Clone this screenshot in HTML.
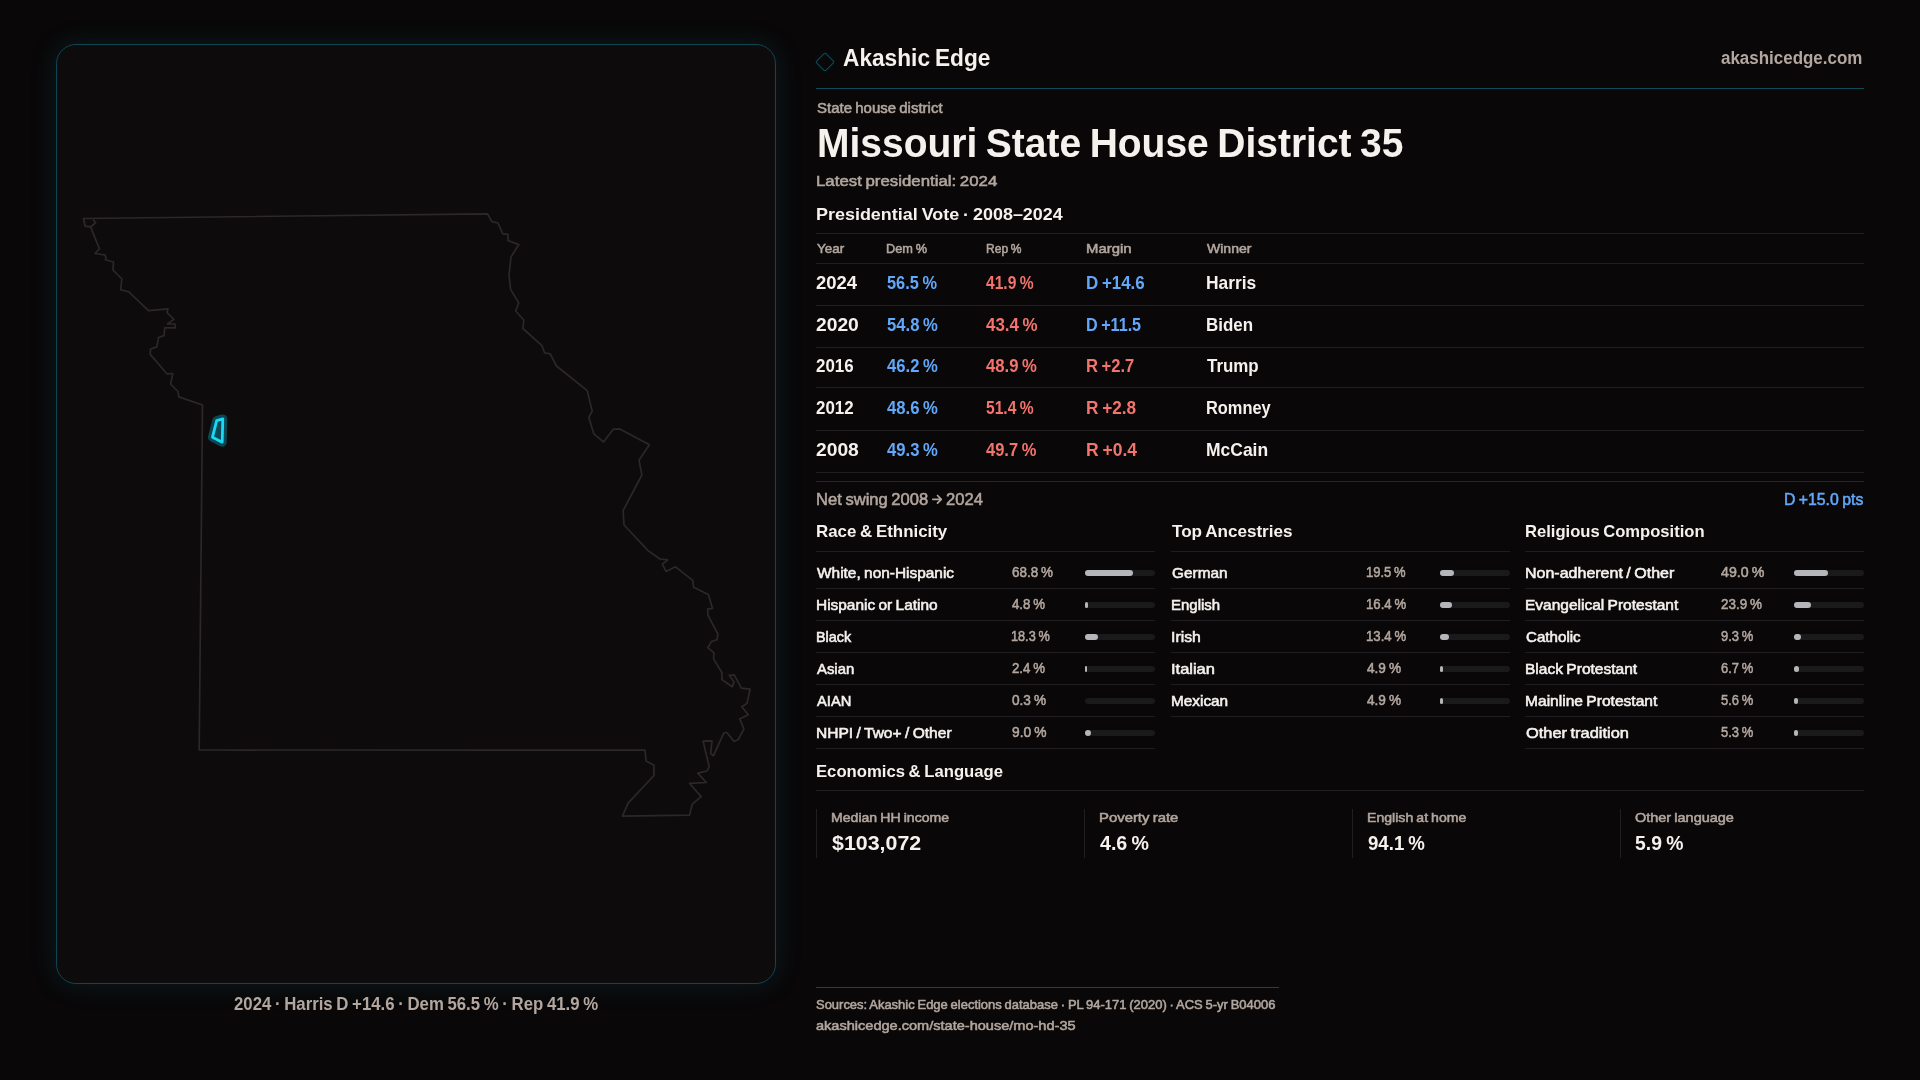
<!DOCTYPE html>
<html><head><meta charset="utf-8"><title>Missouri State House District 35</title>
<style>
html,body{margin:0;padding:0}
body{width:1920px;height:1080px;overflow:hidden;position:relative;background:#090708;font-family:"Liberation Sans",sans-serif;}
.bg{position:absolute;inset:0;background:#090708;}
.panel{position:absolute;left:56px;top:44px;width:718px;height:938px;border:1px solid #0e4653;border-radius:20px;background:#0d0b0c;box-shadow:0 0 24px 3px rgba(24,120,140,0.15);}
.map{position:absolute;left:0;top:0;width:1920px;height:1080px;}
.hl{position:absolute;height:1px;background:#211e1f;}
.tl{position:absolute;height:1px;background:#0f4a57;}
.vl{position:absolute;width:1px;background:#211e1f;}
.trk{position:absolute;height:6px;border-radius:3px;background:#1b1a1b;}
.fil{position:absolute;height:6px;border-radius:3px;background:#b5b6ba;}
.t{position:absolute;white-space:nowrap;line-height:1;transform-origin:0 0;transform:translateZ(0);}
.dia{position:absolute;left:818px;top:55px;width:12px;height:12px;border:1.8px solid #0d4e5b;border-radius:2px;transform:rotate(45deg);box-shadow:0 0 6px rgba(20,140,160,0.12);}
</style></head><body>
<div class="bg"></div>
<div class="panel"></div>
<svg class="map" width="1920" height="1080" viewBox="0 0 1920 1080">
<path d="M83.5 218.5 L487.5 213.8 L491.9 221.6 L498.0 223.0 L502.8 233.8 L508.0 234.4 L508.0 240.6 L518.8 244.6 L511.0 256.9 L509.0 275.0 L510.6 289.4 L518.8 303.0 L515.6 311.0 L523.8 320.0 L522.9 328.5 L541.9 345.6 L544.6 352.9 L550.2 353.8 L556.5 366.0 L587.2 390.6 L592.2 411.2 L588.8 417.5 L593.8 433.8 L603.5 441.9 L613.1 429.4 L619.4 428.8 L649.4 444.8 L639.0 460.2 L641.9 475.0 L623.1 510.6 L624.0 525.0 L648.1 550.6 L660.0 559.0 L667.8 559.8 L662.3 564.2 L666.1 571.4 L675.5 566.8 L692.8 580.4 L693.6 587.2 L708.3 594.5 L712.5 608.3 L707.6 609.2 L708.0 615.3 L717.9 634.0 L717.0 639.7 L711.4 641.6 L707.8 647.7 L713.9 652.8 L713.6 658.9 L721.9 672.5 L721.9 679.5 L732.2 686.8 L734.1 681.9 L729.2 675.3 L734.2 674.8 L741.4 688.2 L750.0 689.2 L747.0 703.4 L741.8 706.7 L748.3 714.7 L739.7 718.9 L743.9 728.8 L738.3 739.5 L734.1 741.4 L726.6 732.3 L723.6 733.3 L713.4 755.8 L710.6 753.4 L712.0 740.8 L703.1 741.2 L709.2 766.6 L707.1 771.0 L697.7 773.1 L706.4 782.5 L689.5 783.4 L701.2 796.6 L692.3 804.1 L689.5 815.1 L622.5 816.1 L628.1 803.1 L653.9 775.5 L653.9 765.2 L646.1 760.9 L645.0 750.2 L199.2 750.0 L202.5 405.0 L178.8 396.9 L178.0 391.5 L170.6 384.0 L172.8 373.5 L166.9 373.8 L150.2 354.4 L150.6 349.0 L156.9 346.9 L158.5 337.5 L164.0 335.6 L164.8 327.8 L175.2 327.8 L175.0 324.0 L167.5 324.0 L173.8 319.4 L167.0 312.5 L168.0 308.8 L148.5 310.6 L128.8 291.9 L120.6 289.8 L121.9 279.0 L113.0 270.0 L113.5 262.0 L105.4 259.8 L106.0 257.5 L105.0 255.0 L95.0 253.5 L99.4 248.8 L90.6 226.9 L85.0 226.2 Z" fill="none" stroke="#2c2828" stroke-width="1.7" stroke-linejoin="round"/>
<path d="M90.6 226.9 L95.6 222.75 L93.1 219.6" fill="none" stroke="#2c2828" stroke-width="1.7" stroke-linejoin="round"/>
<path d="M216.7 420.6 L222.8 418.9 L222.2 442.2 L212.5 437.2 Z" fill="#0c4653" stroke="#0b4653" stroke-width="9" stroke-linejoin="round"/>
<path d="M216.7 420.6 L222.8 418.9 L222.2 442.2 L212.5 437.2 Z" fill="#0c4755" stroke="#1ad9f5" stroke-width="2.8" stroke-linejoin="round"/>
</svg>
<div class="dia"></div>
<svg style="position:absolute;left:0;top:0" width="1920" height="1080"><path d="M932.8 499.3 H941.2 M937.5 495.5 L941.3 499.3 L937.5 503.1" fill="none" stroke="#b2a69e" stroke-width="1.7" stroke-linecap="round" stroke-linejoin="round"/></svg>
<div class="tl" style="left:816px;top:88px;width:1048px"></div>
<div class="hl" style="left:816px;top:233px;width:1048px"></div>
<div class="hl" style="left:816px;top:263px;width:1048px"></div>
<div class="hl" style="left:816px;top:305px;width:1048px"></div>
<div class="hl" style="left:816px;top:347px;width:1048px"></div>
<div class="hl" style="left:816px;top:387px;width:1048px"></div>
<div class="hl" style="left:816px;top:430px;width:1048px"></div>
<div class="hl" style="left:816px;top:472px;width:1048px"></div>
<div class="hl" style="left:816px;top:481px;width:1048px;background:#2b2728"></div>
<div class="hl" style="left:816px;top:551px;width:339px"></div>
<div class="hl" style="left:816px;top:588px;width:339px"></div>
<div class="trk" style="left:1085px;top:570px;width:70px"></div>
<div class="fil" style="left:1085px;top:570px;width:48.2px"></div>
<div class="hl" style="left:816px;top:620px;width:339px"></div>
<div class="trk" style="left:1085px;top:602px;width:70px"></div>
<div class="fil" style="left:1085px;top:602px;width:3.4px"></div>
<div class="hl" style="left:816px;top:652px;width:339px"></div>
<div class="trk" style="left:1085px;top:634px;width:70px"></div>
<div class="fil" style="left:1085px;top:634px;width:12.8px"></div>
<div class="hl" style="left:816px;top:684px;width:339px"></div>
<div class="trk" style="left:1085px;top:666px;width:70px"></div>
<div class="fil" style="left:1085px;top:666px;width:1.7px"></div>
<div class="hl" style="left:816px;top:716px;width:339px"></div>
<div class="trk" style="left:1085px;top:698px;width:70px"></div>
<div class="hl" style="left:816px;top:748px;width:339px"></div>
<div class="trk" style="left:1085px;top:730px;width:70px"></div>
<div class="fil" style="left:1085px;top:730px;width:6.3px"></div>
<div class="hl" style="left:1171px;top:551px;width:339px"></div>
<div class="hl" style="left:1171px;top:588px;width:339px"></div>
<div class="trk" style="left:1440px;top:570px;width:70px"></div>
<div class="fil" style="left:1440px;top:570px;width:13.7px"></div>
<div class="hl" style="left:1171px;top:620px;width:339px"></div>
<div class="trk" style="left:1440px;top:602px;width:70px"></div>
<div class="fil" style="left:1440px;top:602px;width:11.5px"></div>
<div class="hl" style="left:1171px;top:652px;width:339px"></div>
<div class="trk" style="left:1440px;top:634px;width:70px"></div>
<div class="fil" style="left:1440px;top:634px;width:9.4px"></div>
<div class="hl" style="left:1171px;top:684px;width:339px"></div>
<div class="trk" style="left:1440px;top:666px;width:70px"></div>
<div class="fil" style="left:1440px;top:666px;width:3.4px"></div>
<div class="hl" style="left:1171px;top:716px;width:339px"></div>
<div class="trk" style="left:1440px;top:698px;width:70px"></div>
<div class="fil" style="left:1440px;top:698px;width:3.4px"></div>
<div class="hl" style="left:1525px;top:551px;width:339px"></div>
<div class="hl" style="left:1525px;top:588px;width:339px"></div>
<div class="trk" style="left:1794px;top:570px;width:70px"></div>
<div class="fil" style="left:1794px;top:570px;width:34.3px"></div>
<div class="hl" style="left:1525px;top:620px;width:339px"></div>
<div class="trk" style="left:1794px;top:602px;width:70px"></div>
<div class="fil" style="left:1794px;top:602px;width:16.7px"></div>
<div class="hl" style="left:1525px;top:652px;width:339px"></div>
<div class="trk" style="left:1794px;top:634px;width:70px"></div>
<div class="fil" style="left:1794px;top:634px;width:6.5px"></div>
<div class="hl" style="left:1525px;top:684px;width:339px"></div>
<div class="trk" style="left:1794px;top:666px;width:70px"></div>
<div class="fil" style="left:1794px;top:666px;width:4.7px"></div>
<div class="hl" style="left:1525px;top:716px;width:339px"></div>
<div class="trk" style="left:1794px;top:698px;width:70px"></div>
<div class="fil" style="left:1794px;top:698px;width:3.9px"></div>
<div class="hl" style="left:1525px;top:748px;width:339px"></div>
<div class="trk" style="left:1794px;top:730px;width:70px"></div>
<div class="fil" style="left:1794px;top:730px;width:3.7px"></div>
<div class="hl" style="left:816px;top:790px;width:1048px"></div>
<div class="vl" style="left:816px;top:809px;height:49px"></div>
<div class="vl" style="left:1084px;top:809px;height:49px"></div>
<div class="vl" style="left:1352px;top:809px;height:49px"></div>
<div class="vl" style="left:1620px;top:809px;height:49px"></div>
<div class="tl" style="left:816px;top:987px;width:463px"></div>
<div class="t" style="font-size:23.75px;left:842.80px;top:45.90px;letter-spacing:0.000px;color:#f5f2ee;transform:scaleX(0.9551) translateZ(0);word-spacing:-1.43px;font-weight:bold;">Akashic Edge</div>
<div class="t" style="font-size:17.50px;left:1721.40px;top:49.99px;letter-spacing:0.000px;color:#b2a69e;transform:scaleX(0.9687) translateZ(0);font-weight:bold;">akashicedge.com</div>
<div class="t" style="font-size:13.89px;left:816.80px;top:102.24px;letter-spacing:0.000px;color:#b2a69e;transform:scaleX(1.0792) translateZ(0);word-spacing:-0.83px;-webkit-text-stroke:0.55px #b2a69e;">State house district</div>
<div class="t" style="font-size:40.56px;left:816.68px;top:123.47px;letter-spacing:0.000px;color:#f5f2ee;transform:scaleX(0.9615) translateZ(0);word-spacing:-2.43px;font-weight:bold;">Missouri State House District 35</div>
<div class="t" style="font-size:14.79px;left:816.17px;top:174.23px;letter-spacing:0.000px;color:#b2a69e;transform:scaleX(1.1380) translateZ(0);word-spacing:-0.89px;-webkit-text-stroke:0.55px #b2a69e;">Latest presidential: 2024</div>
<div class="t" style="font-size:17.22px;left:815.56px;top:206.02px;letter-spacing:0.000px;color:#f5f2ee;transform:scaleX(1.0430) translateZ(0);word-spacing:-1.03px;font-weight:bold;">Presidential Vote · 2008–2024</div>
<div class="t" style="font-size:13.19px;left:817.08px;top:241.53px;letter-spacing:0.000px;color:#b2a69e;transform:scaleX(1.0179) translateZ(0);-webkit-text-stroke:0.55px #b2a69e;">Year</div>
<div class="t" style="font-size:13.19px;left:886.20px;top:241.53px;letter-spacing:0.000px;color:#b2a69e;transform:scaleX(0.9677) translateZ(0);word-spacing:-0.79px;-webkit-text-stroke:0.55px #b2a69e;">Dem %</div>
<div class="t" style="font-size:13.19px;left:986.09px;top:241.53px;letter-spacing:0.000px;color:#b2a69e;transform:scaleX(0.9129) translateZ(0);word-spacing:-0.79px;-webkit-text-stroke:0.55px #b2a69e;">Rep %</div>
<div class="t" style="font-size:13.19px;left:1085.68px;top:241.53px;letter-spacing:0.000px;color:#b2a69e;transform:scaleX(1.1284) translateZ(0);-webkit-text-stroke:0.55px #b2a69e;">Margin</div>
<div class="t" style="font-size:13.19px;left:1207.09px;top:241.53px;letter-spacing:0.000px;color:#b2a69e;transform:scaleX(1.0645) translateZ(0);-webkit-text-stroke:0.55px #b2a69e;">Winner</div>
<div class="t" style="font-size:18.19px;left:816.40px;top:273.90px;letter-spacing:0.000px;color:#f5f2ee;transform:scaleX(1.0158) translateZ(0);font-weight:bold;">2024</div>
<div class="t" style="font-size:18.19px;left:886.60px;top:273.90px;letter-spacing:0.000px;color:#62a8fa;transform:scaleX(0.8996) translateZ(0);word-spacing:-1.09px;font-weight:bold;">56.5 %</div>
<div class="t" style="font-size:18.19px;left:986.40px;top:273.90px;letter-spacing:0.000px;color:#f3736d;transform:scaleX(0.8580) translateZ(0);word-spacing:-1.09px;font-weight:bold;">41.9 %</div>
<div class="t" style="font-size:18.19px;left:1085.97px;top:273.90px;letter-spacing:0.000px;color:#62a8fa;transform:scaleX(0.9306) translateZ(0);word-spacing:-1.09px;font-weight:bold;">D +14.6</div>
<div class="t" style="font-size:18.19px;left:1205.84px;top:273.90px;letter-spacing:0.000px;color:#f5f2ee;transform:scaleX(0.9561) translateZ(0);font-weight:bold;">Harris</div>
<div class="t" style="font-size:18.19px;left:816.40px;top:315.80px;letter-spacing:0.000px;color:#f5f2ee;transform:scaleX(1.0584) translateZ(0);font-weight:bold;">2020</div>
<div class="t" style="font-size:18.19px;left:886.60px;top:315.80px;letter-spacing:0.000px;color:#62a8fa;transform:scaleX(0.9158) translateZ(0);word-spacing:-1.09px;font-weight:bold;">54.8 %</div>
<div class="t" style="font-size:18.19px;left:986.40px;top:315.80px;letter-spacing:0.000px;color:#f3736d;transform:scaleX(0.9303) translateZ(0);word-spacing:-1.09px;font-weight:bold;">43.4 %</div>
<div class="t" style="font-size:18.19px;left:1086.01px;top:315.80px;letter-spacing:0.000px;color:#62a8fa;transform:scaleX(0.8869) translateZ(0);word-spacing:-1.09px;font-weight:bold;">D +11.5</div>
<div class="t" style="font-size:18.19px;left:1205.87px;top:315.80px;letter-spacing:0.000px;color:#f5f2ee;transform:scaleX(0.9316) translateZ(0);font-weight:bold;">Biden</div>
<div class="t" style="font-size:18.19px;left:816.40px;top:356.80px;letter-spacing:0.000px;color:#f5f2ee;transform:scaleX(0.9295) translateZ(0);font-weight:bold;">2016</div>
<div class="t" style="font-size:18.19px;left:886.60px;top:356.80px;letter-spacing:0.000px;color:#62a8fa;transform:scaleX(0.9158) translateZ(0);word-spacing:-1.09px;font-weight:bold;">46.2 %</div>
<div class="t" style="font-size:18.19px;left:986.40px;top:356.80px;letter-spacing:0.000px;color:#f3736d;transform:scaleX(0.9176) translateZ(0);word-spacing:-1.09px;font-weight:bold;">48.9 %</div>
<div class="t" style="font-size:18.19px;left:1085.99px;top:356.80px;letter-spacing:0.000px;color:#f3736d;transform:scaleX(0.9116) translateZ(0);word-spacing:-1.09px;font-weight:bold;">R +2.7</div>
<div class="t" style="font-size:18.19px;left:1206.80px;top:356.80px;letter-spacing:0.000px;color:#f5f2ee;transform:scaleX(0.9303) translateZ(0);font-weight:bold;">Trump</div>
<div class="t" style="font-size:18.19px;left:816.40px;top:399.10px;letter-spacing:0.000px;color:#f5f2ee;transform:scaleX(0.9295) translateZ(0);font-weight:bold;">2012</div>
<div class="t" style="font-size:18.19px;left:886.60px;top:399.10px;letter-spacing:0.000px;color:#62a8fa;transform:scaleX(0.9158) translateZ(0);word-spacing:-1.09px;font-weight:bold;">48.6 %</div>
<div class="t" style="font-size:18.19px;left:986.40px;top:399.10px;letter-spacing:0.000px;color:#f3736d;transform:scaleX(0.8580) translateZ(0);word-spacing:-1.09px;font-weight:bold;">51.4 %</div>
<div class="t" style="font-size:18.19px;left:1085.95px;top:399.10px;letter-spacing:0.000px;color:#f3736d;transform:scaleX(0.9463) translateZ(0);word-spacing:-1.09px;font-weight:bold;">R +2.8</div>
<div class="t" style="font-size:18.19px;left:1205.90px;top:399.10px;letter-spacing:0.000px;color:#f5f2ee;transform:scaleX(0.9017) translateZ(0);font-weight:bold;">Romney</div>
<div class="t" style="font-size:18.19px;left:816.40px;top:440.90px;letter-spacing:0.000px;color:#f5f2ee;transform:scaleX(1.0584) translateZ(0);font-weight:bold;">2008</div>
<div class="t" style="font-size:18.19px;left:886.60px;top:440.90px;letter-spacing:0.000px;color:#62a8fa;transform:scaleX(0.9158) translateZ(0);word-spacing:-1.09px;font-weight:bold;">49.3 %</div>
<div class="t" style="font-size:18.19px;left:986.40px;top:440.90px;letter-spacing:0.000px;color:#f3736d;transform:scaleX(0.9068) translateZ(0);word-spacing:-1.09px;font-weight:bold;">49.7 %</div>
<div class="t" style="font-size:18.19px;left:1085.94px;top:440.90px;letter-spacing:0.000px;color:#f3736d;transform:scaleX(0.9625) translateZ(0);word-spacing:-1.09px;font-weight:bold;">R +0.4</div>
<div class="t" style="font-size:18.19px;left:1205.84px;top:440.90px;letter-spacing:0.000px;color:#f5f2ee;transform:scaleX(0.9606) translateZ(0);font-weight:bold;">McCain</div>
<div class="t" style="font-size:16.11px;left:816.05px;top:491.16px;letter-spacing:0.000px;color:#b2a69e;transform:scaleX(1.0285) translateZ(0);word-spacing:-0.97px;-webkit-text-stroke:0.55px #b2a69e;">Net swing 2008</div>
<div class="t" style="font-size:16.11px;left:946.48px;top:491.16px;letter-spacing:0.000px;color:#b2a69e;transform:scaleX(1.0294) translateZ(0);-webkit-text-stroke:0.55px #b2a69e;">2024</div>
<div class="t" style="font-size:16.11px;left:1783.59px;top:491.26px;letter-spacing:0.000px;color:#62a8fa;transform:scaleX(0.9801) translateZ(0);word-spacing:-0.97px;-webkit-text-stroke:0.55px #62a8fa;">D +15.0 pts</div>
<div class="t" style="font-size:16.81px;left:815.79px;top:524.37px;letter-spacing:0.000px;color:#f5f2ee;transform:scaleX(1.0055) translateZ(0);word-spacing:-1.01px;font-weight:bold;">Race &amp; Ethnicity</div>
<div class="t" style="font-size:14.17px;left:817.10px;top:565.61px;letter-spacing:0.000px;color:#f5f2ee;transform:scaleX(1.0895) translateZ(0);word-spacing:-0.85px;-webkit-text-stroke:0.55px #f5f2ee;">White, non-Hispanic</div>
<div class="t" style="font-size:14.44px;left:1011.56px;top:565.37px;letter-spacing:0.000px;color:#b2a69e;transform:scaleX(0.9287) translateZ(0);word-spacing:-0.87px;-webkit-text-stroke:0.55px #b2a69e;">68.8 %</div>
<div class="t" style="font-size:14.17px;left:816.01px;top:597.61px;letter-spacing:0.000px;color:#f5f2ee;transform:scaleX(1.0900) translateZ(0);word-spacing:-0.85px;-webkit-text-stroke:0.55px #f5f2ee;">Hispanic or Latino</div>
<div class="t" style="font-size:14.44px;left:1011.55px;top:597.37px;letter-spacing:0.000px;color:#b2a69e;transform:scaleX(0.9166) translateZ(0);word-spacing:-0.87px;-webkit-text-stroke:0.55px #b2a69e;">4.8 %</div>
<div class="t" style="font-size:14.17px;left:816.06px;top:629.61px;letter-spacing:0.000px;color:#f5f2ee;transform:scaleX(1.0174) translateZ(0);-webkit-text-stroke:0.55px #f5f2ee;">Black</div>
<div class="t" style="font-size:14.44px;left:1010.66px;top:629.37px;letter-spacing:0.000px;color:#b2a69e;transform:scaleX(0.8791) translateZ(0);word-spacing:-0.87px;-webkit-text-stroke:0.55px #b2a69e;">18.3 %</div>
<div class="t" style="font-size:14.17px;left:817.09px;top:661.61px;letter-spacing:0.000px;color:#f5f2ee;transform:scaleX(1.0516) translateZ(0);-webkit-text-stroke:0.55px #f5f2ee;">Asian</div>
<div class="t" style="font-size:14.44px;left:1011.55px;top:661.37px;letter-spacing:0.000px;color:#b2a69e;transform:scaleX(0.9166) translateZ(0);word-spacing:-0.87px;-webkit-text-stroke:0.55px #b2a69e;">2.4 %</div>
<div class="t" style="font-size:14.17px;left:817.09px;top:693.61px;letter-spacing:0.000px;color:#f5f2ee;transform:scaleX(1.0399) translateZ(0);-webkit-text-stroke:0.55px #f5f2ee;">AIAN</div>
<div class="t" style="font-size:14.44px;left:1011.56px;top:693.37px;letter-spacing:0.000px;color:#b2a69e;transform:scaleX(0.9438) translateZ(0);word-spacing:-0.87px;-webkit-text-stroke:0.55px #b2a69e;">0.3 %</div>
<div class="t" style="font-size:14.17px;left:816.00px;top:725.61px;letter-spacing:0.000px;color:#f5f2ee;transform:scaleX(1.0989) translateZ(0);word-spacing:-0.85px;-webkit-text-stroke:0.55px #f5f2ee;">NHPI / Two+ / Other</div>
<div class="t" style="font-size:14.44px;left:1011.56px;top:725.37px;letter-spacing:0.000px;color:#b2a69e;transform:scaleX(0.9547) translateZ(0);word-spacing:-0.87px;-webkit-text-stroke:0.55px #b2a69e;">9.0 %</div>
<div class="t" style="font-size:16.81px;left:1171.80px;top:524.37px;letter-spacing:0.000px;color:#f5f2ee;transform:scaleX(1.0173) translateZ(0);word-spacing:-1.01px;font-weight:bold;">Top Ancestries</div>
<div class="t" style="font-size:14.17px;left:1172.10px;top:565.61px;letter-spacing:0.000px;color:#f5f2ee;transform:scaleX(1.0863) translateZ(0);-webkit-text-stroke:0.55px #f5f2ee;">German</div>
<div class="t" style="font-size:14.44px;left:1365.65px;top:565.37px;letter-spacing:0.000px;color:#b2a69e;transform:scaleX(0.8997) translateZ(0);word-spacing:-0.87px;-webkit-text-stroke:0.55px #b2a69e;">19.5 %</div>
<div class="t" style="font-size:14.17px;left:1171.03px;top:597.61px;letter-spacing:0.000px;color:#f5f2ee;transform:scaleX(1.0575) translateZ(0);-webkit-text-stroke:0.55px #f5f2ee;">English</div>
<div class="t" style="font-size:14.44px;left:1365.64px;top:597.37px;letter-spacing:0.000px;color:#b2a69e;transform:scaleX(0.9111) translateZ(0);word-spacing:-0.87px;-webkit-text-stroke:0.55px #b2a69e;">16.4 %</div>
<div class="t" style="font-size:14.17px;left:1170.99px;top:629.61px;letter-spacing:0.000px;color:#f5f2ee;transform:scaleX(1.1133) translateZ(0);-webkit-text-stroke:0.55px #f5f2ee;">Irish</div>
<div class="t" style="font-size:14.44px;left:1365.64px;top:629.37px;letter-spacing:0.000px;color:#b2a69e;transform:scaleX(0.9111) translateZ(0);word-spacing:-0.87px;-webkit-text-stroke:0.55px #b2a69e;">13.4 %</div>
<div class="t" style="font-size:14.17px;left:1170.96px;top:661.61px;letter-spacing:0.000px;color:#f5f2ee;transform:scaleX(1.1632) translateZ(0);-webkit-text-stroke:0.55px #f5f2ee;">Italian</div>
<div class="t" style="font-size:14.44px;left:1366.56px;top:661.37px;letter-spacing:0.000px;color:#b2a69e;transform:scaleX(0.9438) translateZ(0);word-spacing:-0.87px;-webkit-text-stroke:0.55px #b2a69e;">4.9 %</div>
<div class="t" style="font-size:14.17px;left:1171.01px;top:693.61px;letter-spacing:0.000px;color:#f5f2ee;transform:scaleX(1.0839) translateZ(0);-webkit-text-stroke:0.55px #f5f2ee;">Mexican</div>
<div class="t" style="font-size:14.44px;left:1366.56px;top:693.37px;letter-spacing:0.000px;color:#b2a69e;transform:scaleX(0.9438) translateZ(0);word-spacing:-0.87px;-webkit-text-stroke:0.55px #b2a69e;">4.9 %</div>
<div class="t" style="font-size:16.81px;left:1524.81px;top:524.37px;letter-spacing:0.000px;color:#f5f2ee;transform:scaleX(0.9871) translateZ(0);word-spacing:-1.01px;font-weight:bold;">Religious Composition</div>
<div class="t" style="font-size:14.17px;left:1524.98px;top:565.61px;letter-spacing:0.000px;color:#f5f2ee;transform:scaleX(1.1303) translateZ(0);word-spacing:-0.85px;-webkit-text-stroke:0.55px #f5f2ee;">Non-adherent / Other</div>
<div class="t" style="font-size:14.44px;left:1720.57px;top:565.37px;letter-spacing:0.000px;color:#b2a69e;transform:scaleX(0.9823) translateZ(0);word-spacing:-0.87px;-webkit-text-stroke:0.55px #b2a69e;">49.0 %</div>
<div class="t" style="font-size:14.17px;left:1525.01px;top:597.61px;letter-spacing:0.000px;color:#f5f2ee;transform:scaleX(1.0944) translateZ(0);word-spacing:-0.85px;-webkit-text-stroke:0.55px #f5f2ee;">Evangelical Protestant</div>
<div class="t" style="font-size:14.44px;left:1720.56px;top:597.37px;letter-spacing:0.000px;color:#b2a69e;transform:scaleX(0.9287) translateZ(0);word-spacing:-0.87px;-webkit-text-stroke:0.55px #b2a69e;">23.9 %</div>
<div class="t" style="font-size:14.17px;left:1526.09px;top:629.61px;letter-spacing:0.000px;color:#f5f2ee;transform:scaleX(1.0694) translateZ(0);-webkit-text-stroke:0.55px #f5f2ee;">Catholic</div>
<div class="t" style="font-size:14.44px;left:1720.55px;top:629.37px;letter-spacing:0.000px;color:#b2a69e;transform:scaleX(0.8976) translateZ(0);word-spacing:-0.87px;-webkit-text-stroke:0.55px #b2a69e;">9.3 %</div>
<div class="t" style="font-size:14.17px;left:1525.00px;top:661.61px;letter-spacing:0.000px;color:#f5f2ee;transform:scaleX(1.0968) translateZ(0);word-spacing:-0.85px;-webkit-text-stroke:0.55px #f5f2ee;">Black Protestant</div>
<div class="t" style="font-size:14.44px;left:1720.55px;top:661.37px;letter-spacing:0.000px;color:#b2a69e;transform:scaleX(0.8976) translateZ(0);word-spacing:-0.87px;-webkit-text-stroke:0.55px #b2a69e;">6.7 %</div>
<div class="t" style="font-size:14.17px;left:1525.00px;top:693.61px;letter-spacing:0.000px;color:#f5f2ee;transform:scaleX(1.0997) translateZ(0);word-spacing:-0.85px;-webkit-text-stroke:0.55px #f5f2ee;">Mainline Protestant</div>
<div class="t" style="font-size:14.44px;left:1720.55px;top:693.37px;letter-spacing:0.000px;color:#b2a69e;transform:scaleX(0.8976) translateZ(0);word-spacing:-0.87px;-webkit-text-stroke:0.55px #b2a69e;">5.6 %</div>
<div class="t" style="font-size:14.17px;left:1526.12px;top:725.61px;letter-spacing:0.000px;color:#f5f2ee;transform:scaleX(1.1578) translateZ(0);word-spacing:-0.85px;-webkit-text-stroke:0.55px #f5f2ee;">Other tradition</div>
<div class="t" style="font-size:14.44px;left:1720.55px;top:725.37px;letter-spacing:0.000px;color:#b2a69e;transform:scaleX(0.8976) translateZ(0);word-spacing:-0.87px;-webkit-text-stroke:0.55px #b2a69e;">5.3 %</div>
<div class="t" style="font-size:17.36px;left:815.84px;top:762.70px;letter-spacing:0.000px;color:#f5f2ee;transform:scaleX(0.9606) translateZ(0);word-spacing:-1.04px;font-weight:bold;">Economics &amp; Language</div>
<div class="t" style="font-size:13.06px;left:830.92px;top:810.65px;letter-spacing:0.000px;color:#b2a69e;transform:scaleX(1.0794) translateZ(0);word-spacing:-0.78px;-webkit-text-stroke:0.55px #b2a69e;">Median HH income</div>
<div class="t" style="font-size:20.97px;left:832.00px;top:833.05px;letter-spacing:0.000px;color:#f5f2ee;transform:scaleX(1.0208) translateZ(0);font-weight:bold;">$103,072</div>
<div class="t" style="font-size:13.06px;left:1098.97px;top:810.65px;letter-spacing:0.000px;color:#b2a69e;transform:scaleX(1.1402) translateZ(0);word-spacing:-0.78px;-webkit-text-stroke:0.55px #b2a69e;">Poverty rate</div>
<div class="t" style="font-size:20.97px;left:1100.10px;top:833.05px;letter-spacing:0.000px;color:#f5f2ee;transform:scaleX(0.9352) translateZ(0);word-spacing:-1.26px;font-weight:bold;">4.6 %</div>
<div class="t" style="font-size:13.06px;left:1367.12px;top:810.65px;letter-spacing:0.000px;color:#b2a69e;transform:scaleX(1.0801) translateZ(0);word-spacing:-0.78px;-webkit-text-stroke:0.55px #b2a69e;">English at home</div>
<div class="t" style="font-size:20.97px;left:1368.20px;top:833.05px;letter-spacing:0.000px;color:#f5f2ee;transform:scaleX(0.8885) translateZ(0);word-spacing:-1.26px;font-weight:bold;">94.1 %</div>
<div class="t" style="font-size:13.06px;left:1635.30px;top:810.65px;letter-spacing:0.000px;color:#b2a69e;transform:scaleX(1.1089) translateZ(0);word-spacing:-0.78px;-webkit-text-stroke:0.55px #b2a69e;">Other language</div>
<div class="t" style="font-size:20.97px;left:1635.30px;top:833.05px;letter-spacing:0.000px;color:#f5f2ee;transform:scaleX(0.9238) translateZ(0);word-spacing:-1.26px;font-weight:bold;">5.9 %</div>
<div class="t" style="font-size:12.50px;left:816.29px;top:999.32px;letter-spacing:0.000px;color:#b2a69e;transform:scaleX(1.0372) translateZ(0);word-spacing:-0.75px;-webkit-text-stroke:0.55px #b2a69e;">Sources: Akashic Edge elections database · PL 94-171 (2020) · ACS 5-yr B04006</div>
<div class="t" style="font-size:12.92px;left:816.31px;top:1019.97px;letter-spacing:0.000px;color:#b2a69e;transform:scaleX(1.1272) translateZ(0);-webkit-text-stroke:0.55px #b2a69e;">akashicedge.com/state-house/mo-hd-35</div>
<div class="t" style="font-size:18.06px;left:234.40px;top:995.22px;letter-spacing:0.000px;color:#b2a69e;transform:scaleX(0.9293) translateZ(0);word-spacing:-1.08px;font-weight:bold;">2024 · Harris D +14.6 · Dem 56.5 % · Rep 41.9 %</div>
</body></html>
